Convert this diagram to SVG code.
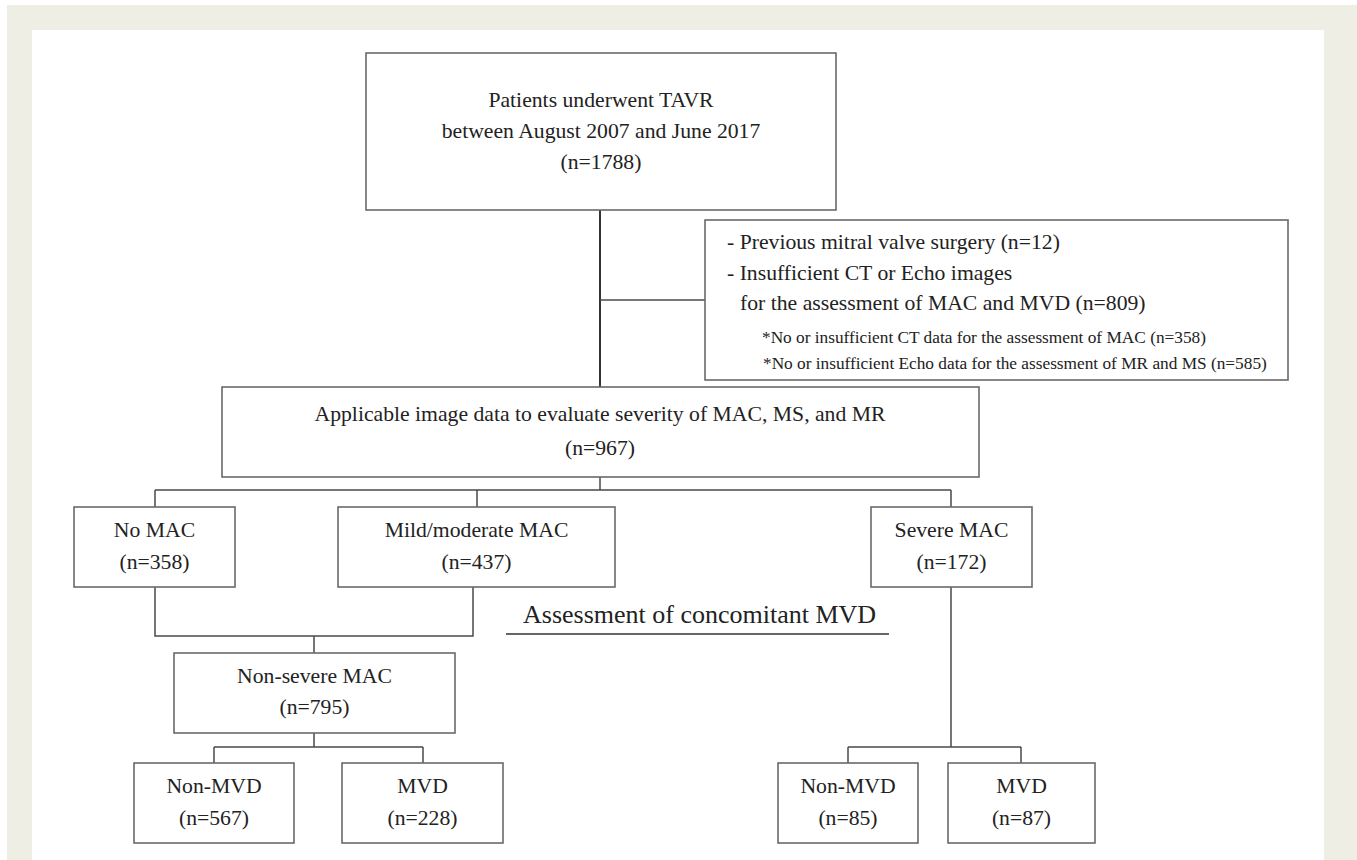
<svg xmlns="http://www.w3.org/2000/svg" width="1357" height="860" viewBox="0 0 1357 860">
<style>
.box{fill:#fff;stroke:#6a6a6a;stroke-width:1.6}
.t{font-family:"Liberation Serif","Times New Roman",serif;font-size:21.7px;fill:#222;text-anchor:middle}
.l{font-family:"Liberation Serif","Times New Roman",serif;font-size:21.7px;fill:#222}
.s{font-family:"Liberation Serif","Times New Roman",serif;font-size:17.3px;fill:#222}
.h{font-family:"Liberation Serif","Times New Roman",serif;font-size:26px;fill:#222}
.c{fill:none;stroke:#4a4a4a;stroke-width:1.5}
</style>
<rect width="1357" height="860" fill="#fff"/>
<rect x="7" y="5" width="1350" height="855" fill="#efeee5"/>
<rect x="32" y="30" width="1292" height="830" fill="#fff"/>
<g id="connectors">
<path class="c" d="M600 210 V387" style="stroke:#333;stroke-width:2"/>
<path class="c" d="M600 300 H705"/>
<path class="c" d="M600 477 V490 M155 490 H951 M155 490 V507 M477 490 V507 M951 490 V507"/>
<path class="c" d="M155 587 V636 H473 V587 M314 636 V653"/>
<path class="c" d="M314 733 V747 M214 747 H423 M214 747 V763 M423 747 V763"/>
<path class="c" d="M951 587 V747 M848 747 H1021 M848 747 V763 M1021 747 V763"/>
</g>
<g id="n1">
<rect class="box" x="366" y="53" width="470" height="157"/>
<text class="t" x="601" y="107">Patients underwent TAVR</text>
<text class="t" x="601" y="138">between August 2007 and June 2017</text>
<text class="t" x="601" y="169">(n=1788)</text>
</g>
<g id="n2">
<rect class="box" x="705" y="220" width="583" height="160"/>
<text class="l" x="727" y="249">- Previous mitral valve surgery (n=12)</text>
<text class="l" x="727" y="280">- Insufficient CT or Echo images</text>
<text class="l" x="740" y="310">for the assessment of MAC and MVD (n=809)</text>
<text class="s" x="762" y="343">*No or insufficient CT data for the assessment of MAC (n=358)</text>
<text class="s" x="763" y="369">*No or insufficient Echo data for the assessment of MR and MS (n=585)</text>
</g>
<g id="n3">
<rect class="box" x="222" y="387" width="757" height="90"/>
<text class="t" x="600" y="421">Applicable image data to evaluate severity of MAC, MS, and MR</text>
<text class="t" x="600" y="455">(n=967)</text>
</g>
<g id="n4">
<rect class="box" x="74" y="507" width="161" height="80"/>
<text class="t" x="154.5" y="537">No MAC</text>
<text class="t" x="154.5" y="569">(n=358)</text>
</g>
<g id="n5">
<rect class="box" x="338" y="507" width="277" height="80"/>
<text class="t" x="476.5" y="537">Mild/moderate MAC</text>
<text class="t" x="476.5" y="569">(n=437)</text>
</g>
<g id="n6">
<rect class="box" x="871" y="507" width="161" height="80"/>
<text class="t" x="951.5" y="537">Severe MAC</text>
<text class="t" x="951.5" y="569">(n=172)</text>
</g>
<g id="label">
<text class="h" x="523" y="623">Assessment of concomitant MVD</text>
<path d="M506 634 H889" stroke="#333" stroke-width="1.5"/>
</g>
<g id="n7">
<rect class="box" x="174" y="653" width="281" height="80"/>
<text class="t" x="314.5" y="683">Non-severe MAC</text>
<text class="t" x="314.5" y="714">(n=795)</text>
</g>
<g id="n8">
<rect class="box" x="134" y="763" width="160" height="80"/>
<text class="t" x="214" y="793">Non-MVD</text>
<text class="t" x="214" y="825">(n=567)</text>
</g>
<g id="n9">
<rect class="box" x="342" y="763" width="161" height="80"/>
<text class="t" x="422.5" y="793">MVD</text>
<text class="t" x="422.5" y="825">(n=228)</text>
</g>
<g id="n10">
<rect class="box" x="778" y="763" width="140" height="80"/>
<text class="t" x="848" y="793">Non-MVD</text>
<text class="t" x="848" y="825">(n=85)</text>
</g>
<g id="n11">
<rect class="box" x="948" y="763" width="147" height="80"/>
<text class="t" x="1021.5" y="793">MVD</text>
<text class="t" x="1021.5" y="825">(n=87)</text>
</g>
</svg>
